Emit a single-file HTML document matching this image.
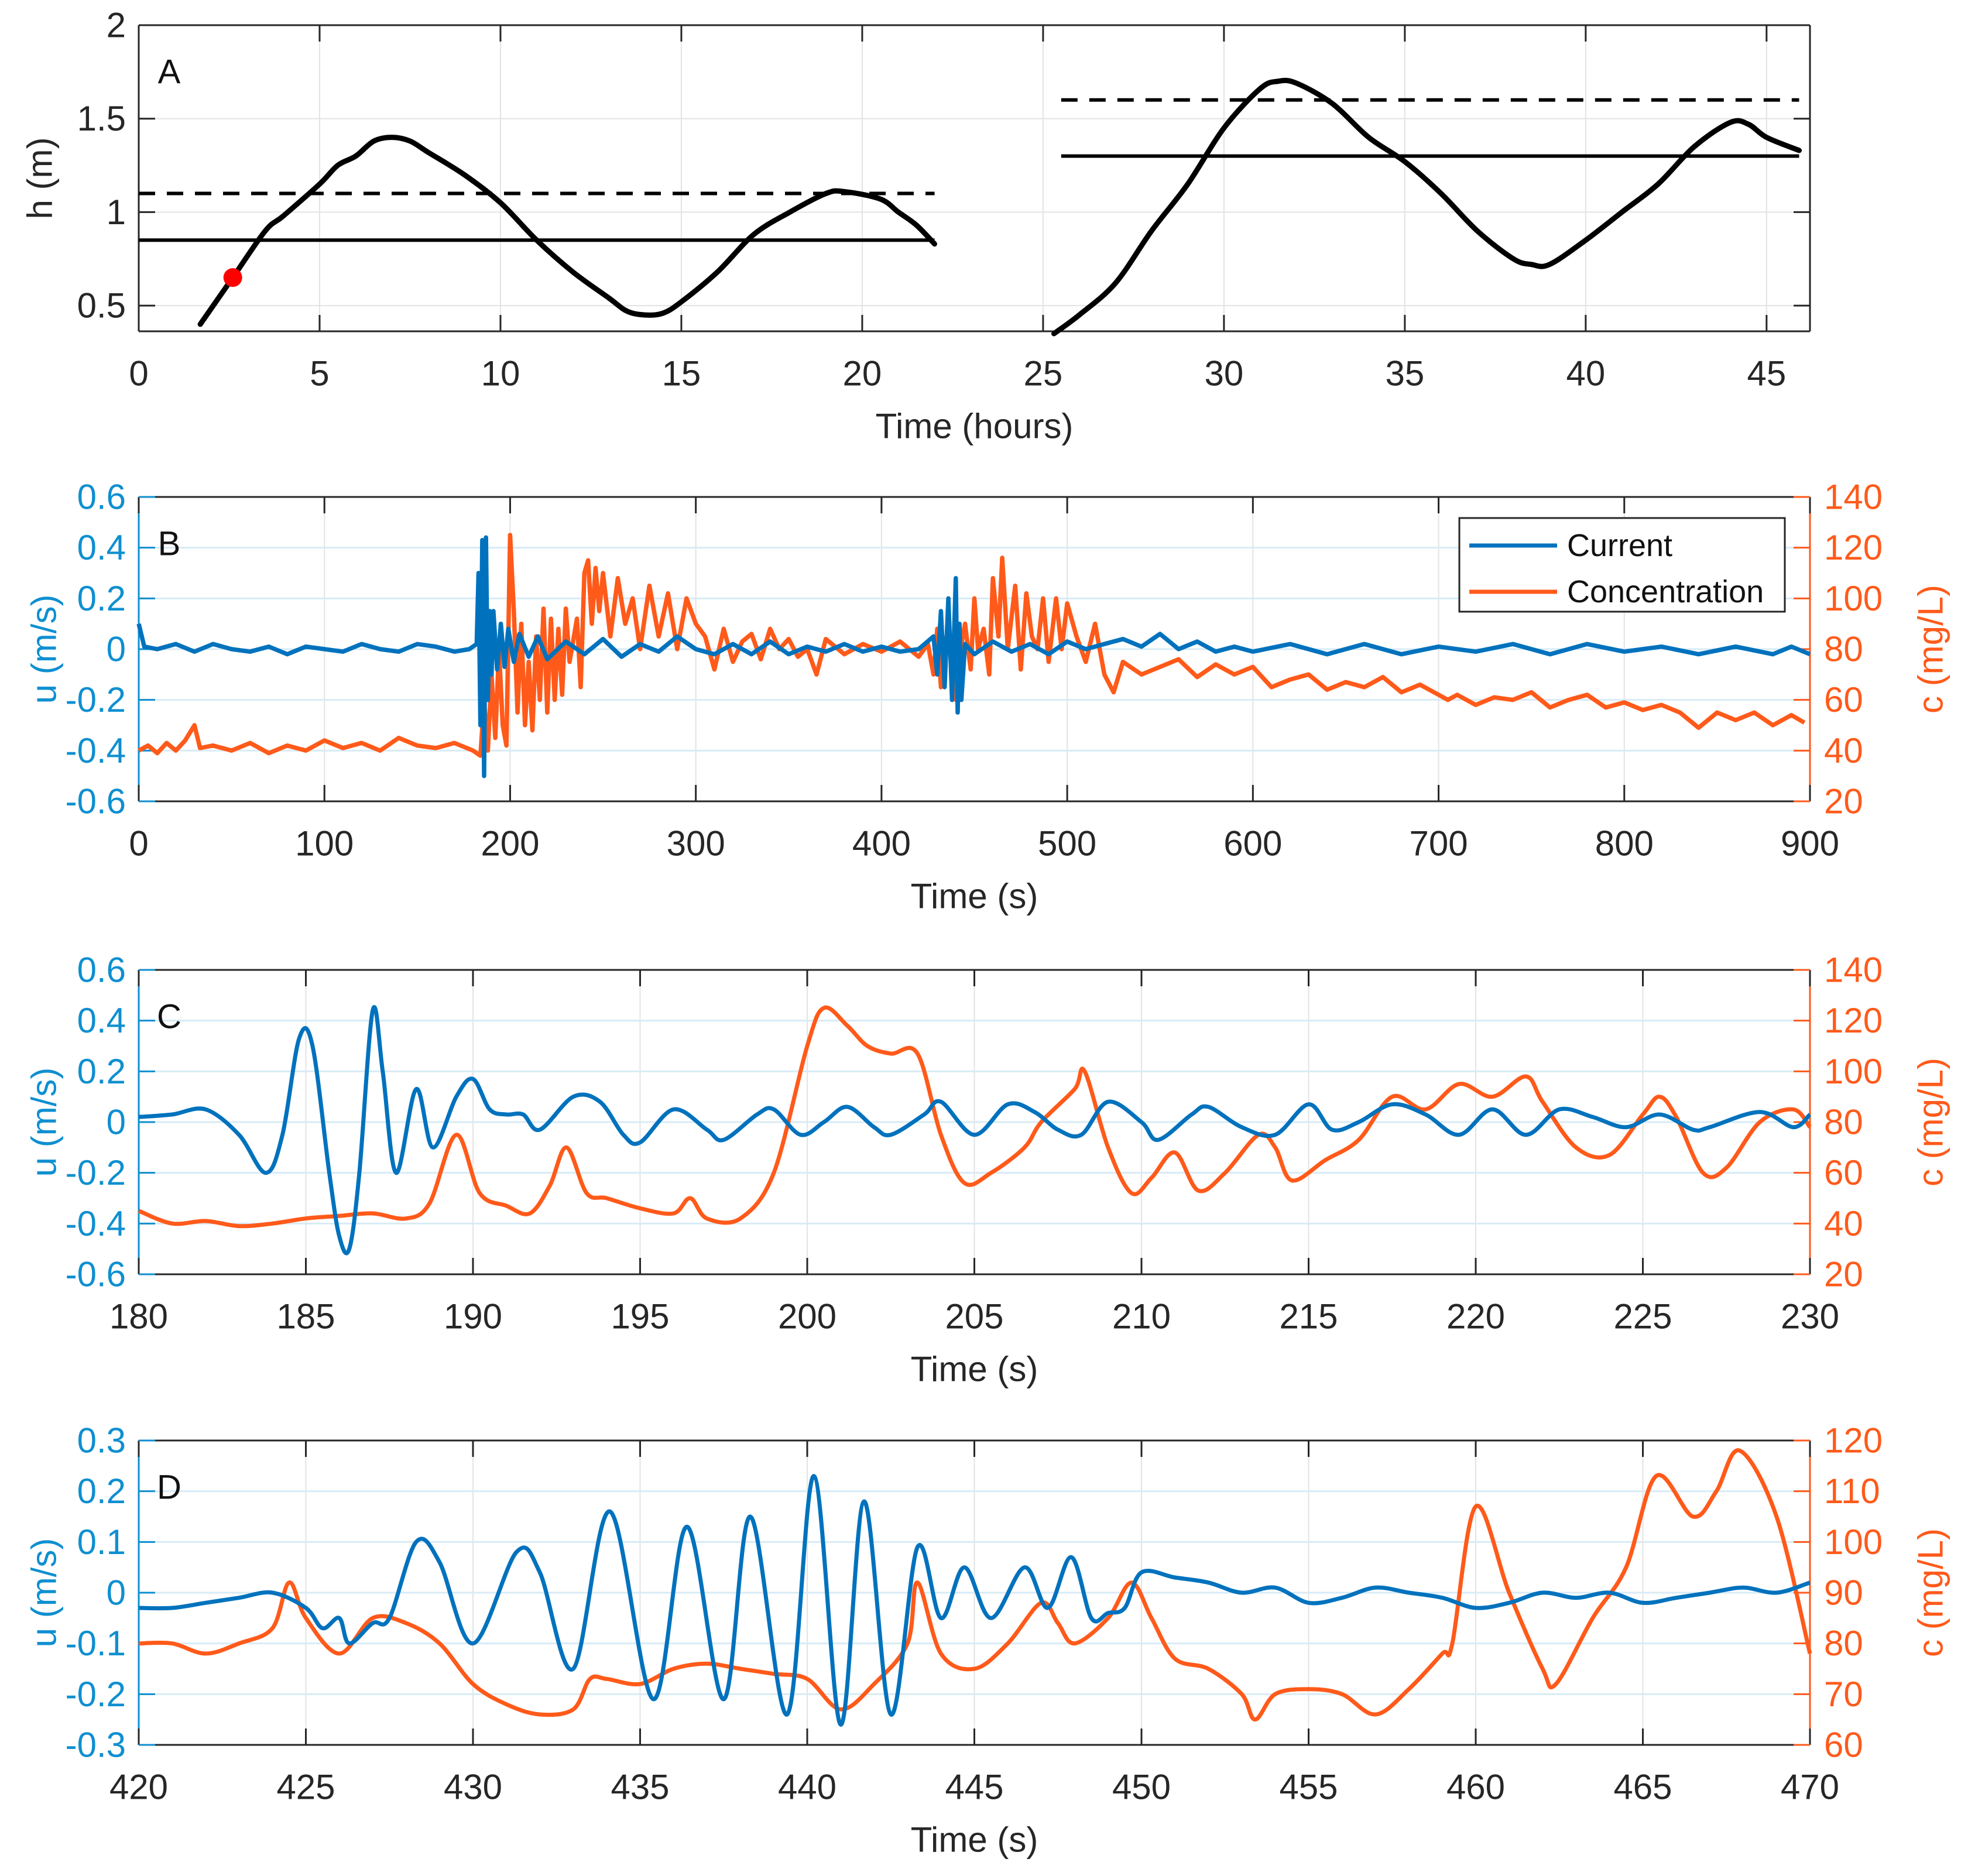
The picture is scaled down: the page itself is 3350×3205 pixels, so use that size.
<!DOCTYPE html>
<html><head><meta charset="utf-8"><style>
html,body{margin:0;padding:0;background:#fff;}
svg{display:block;}
text{font-family:"Liberation Sans",Arial,sans-serif;}
</style></head><body>
<svg id="fig" width="3350" height="3205" viewBox="0 0 3350 3205" xmlns="http://www.w3.org/2000/svg"></svg>
<script>
// ---------- Panel A data ----------
const aSeg1T = [1.7,2.6,3.5,4,5,5.5,6,6.5,7,7.5,8,9,10,11,12,13,13.5,14,14.5,15,16,17,18,19,19.5,20.5,21,21.5,22];
const aSeg1H = [0.4,0.65,0.9,0.98,1.15,1.25,1.3,1.38,1.4,1.38,1.32,1.2,1.05,0.85,0.68,0.54,0.47,0.45,0.46,0.52,0.68,0.88,1.0,1.1,1.11,1.07,1.0,0.93,0.83];
const aSeg2T = [25.3,26,27,28,29,30,31,31.5,32,33,34,35,36,37,38,38.5,39,40,41,42,43,44,44.5,45,45.9];
const aSeg2H = [0.35,0.45,0.62,0.9,1.15,1.45,1.66,1.7,1.69,1.58,1.4,1.27,1.1,0.9,0.75,0.72,0.72,0.85,1.0,1.15,1.35,1.48,1.47,1.4,1.33];
const aMarkerT = [2.6];
const aMarkerH = [0.65];
const aLevelsSolid = [0.85, 1.3];
const aLevelsDashed = [1.1, 1.6];
const aLevelSpans = [[0,22],[25.5,45.9]];
const aXTicks = [0,5,10,15,20,25,30,35,40,45];
const aYTicks = [0.5,1,1.5,2];

// ---------- Panel B data ----------
const bUT = [0,3,10,20,30,40,50,60,70,80,90,100,110,120,130,140,150,160,170,178,182,183,184,185,186,187,188,189,190,191,193,195,197,199,202,205,210,215,220,230,240,250,260,270,280,290,300,310,320,330,340,350,360,370,380,390,400,410,420,428,430,432,434,436,438,440,441,442,443,445,450,460,470,480,490,500,510,520,530,540,550,560,570,580,590,600,620,640,660,680,700,720,740,760,780,800,820,840,860,880,890,900];
const bU = [0.1,0.01,0.0,0.02,-0.01,0.02,0.0,-0.01,0.01,-0.02,0.01,0.0,-0.01,0.02,0.0,-0.01,0.02,0.01,-0.01,0.0,0.02,0.3,-0.3,0.43,-0.5,0.44,-0.2,0.15,-0.1,0.15,-0.08,0.1,-0.07,0.08,-0.05,0.06,-0.03,0.05,-0.04,0.03,-0.02,0.04,-0.03,0.02,-0.01,0.05,0.0,-0.02,0.02,-0.02,0.03,-0.02,0.01,-0.01,0.02,-0.01,0.01,-0.01,0.0,0.05,-0.1,0.15,-0.15,0.2,-0.2,0.28,-0.25,0.1,-0.2,0.02,-0.02,0.03,-0.01,0.02,-0.02,0.03,0.0,0.02,0.04,0.01,0.06,0.0,0.03,-0.01,0.01,-0.01,0.02,-0.02,0.02,-0.02,0.01,-0.01,0.02,-0.02,0.02,-0.01,0.01,-0.02,0.01,-0.02,0.01,-0.02];
const bCT = [0,5,10,15,20,25,30,33,40,50,60,70,80,90,100,110,120,130,140,150,160,170,180,184,186,188,190,192,194,196,198,200,202,204,206,208,210,212,214,216,218,220,222,224,226,228,230,232,236,238,240,242,244,246,248,250,254,258,262,266,270,275,280,285,290,295,300,305,310,315,320,325,330,335,340,345,350,355,360,365,370,380,390,400,410,420,425,428,430,432,435,438,440,442,445,448,450,452,455,458,460,463,465,468,472,475,478,481,484,487,490,494,497,500,505,510,515,520,525,530,540,550,560,570,580,590,600,610,620,630,640,650,660,670,680,690,700,705,710,720,730,740,750,760,770,780,790,800,810,820,830,840,850,860,870,880,890,897];
const bC = [40,42,39,43,40,44,50,41,42,40,43,39,42,40,44,41,43,40,45,42,41,43,40,38,60,40,70,45,80,50,42,125,95,55,90,50,75,48,85,60,96,55,92,60,88,62,96,75,92,65,110,115,90,112,95,110,85,108,90,100,80,105,85,102,80,100,90,85,72,88,75,83,86,76,88,80,84,77,80,70,84,78,82,79,83,77,82,70,88,65,85,78,60,78,90,72,100,80,88,70,108,85,116,80,105,72,102,85,80,100,75,100,80,98,85,75,90,70,63,75,70,73,76,69,74,70,73,65,68,70,64,67,65,69,63,66,62,60,62,58,61,60,63,57,60,62,57,59,56,58,55,49,55,52,55,50,54,51];
const bXTicks = [0,100,200,300,400,500,600,700,800,900];
const bYTicksL = [-0.6,-0.4,-0.2,0,0.2,0.4,0.6];
const bYTicksR = [20,40,60,80,100,120,140];

// ---------- Panel C data ----------
const cUT = [180,181,182,183,183.8,184.3,184.8,185.2,185.7,186,186.3,186.6,187,187.3,187.7,188.3,188.8,189.5,190,190.5,191,191.5,192,193,193.8,194.5,195,196,197,197.5,198.5,199,199.8,200.5,201.2,202,202.5,203.5,204,205,206,206.8,207.5,208.2,209,210,210.5,211.5,212,213,214,215,215.7,216.5,217.5,218.5,219.5,220.5,221.5,222.5,223.5,224.5,225.5,226.5,227,228.5,229.5,230];
const cU = [0.02,0.03,0.05,-0.05,-0.2,-0.05,0.33,0.3,-0.2,-0.45,-0.5,-0.2,0.44,0.2,-0.2,0.13,-0.1,0.1,0.17,0.05,0.03,0.03,-0.03,0.1,0.08,-0.05,-0.08,0.05,-0.03,-0.07,0.03,0.05,-0.05,0.0,0.06,-0.02,-0.05,0.03,0.08,-0.05,0.07,0.04,-0.03,-0.05,0.08,0.0,-0.07,0.03,0.06,-0.02,-0.05,0.07,-0.03,0.0,0.07,0.03,-0.05,0.05,-0.05,0.05,0.02,-0.02,0.03,-0.03,-0.02,0.04,-0.02,0.03];
const cCT = [180,181,182,183,184,185,186,187,188,188.7,189.5,190.2,191,191.7,192.3,192.8,193.4,194,195,196,196.5,197,198,199,200,200.5,201.2,201.8,202.5,203.3,204,204.7,205.5,206.5,207,208,208.3,209,209.7,210.3,211,211.7,212.5,213.5,214,214.5,215.5,216.5,217.5,218.5,219.5,220.5,221.5,222,223,224,225,225.5,226,226.8,227.5,228.5,229.5,230];
const cC = [45,40,41,39,40,42,43,44,42,48,75,52,47,44,55,70,52,50,46,44,50,42,42,60,110,125,118,110,107,107,75,56,60,70,80,93,100,70,52,58,68,53,60,75,70,57,65,73,90,85,95,90,98,88,70,67,83,90,82,60,62,80,85,78];
const cXTicks = [180,185,190,195,200,205,210,215,220,225,230];

// ---------- Panel D data ----------
const dUT = [420,421,422,423,424,425,425.5,426,426.3,427,427.5,428.3,429,430,431.3,432,433,434.1,435.4,436.4,437.5,438.3,439.4,440.2,441.0,441.7,442.5,443.3,444,444.7,445.5,446.5,447.2,447.9,448.5,449,449.5,450,451,452,453,454,455,456,457,458,459,460,461,462,463,464,465,466,467,468,469,470];
const dU = [-0.03,-0.03,-0.02,-0.01,0.0,-0.03,-0.07,-0.05,-0.1,-0.06,-0.05,0.1,0.06,-0.1,0.08,0.04,-0.15,0.16,-0.21,0.13,-0.21,0.15,-0.24,0.23,-0.26,0.18,-0.24,0.09,-0.05,0.05,-0.05,0.05,-0.03,0.07,-0.05,-0.04,-0.03,0.04,0.03,0.02,0.0,0.01,-0.02,-0.01,0.01,0.0,-0.01,-0.03,-0.02,0.0,-0.01,0.0,-0.02,-0.01,0.0,0.01,0.0,0.02];
const dCT = [420,421,422,423,424,424.5,425,426,427,428,429,430,431,432,433,433.5,434,435,436,437,438,439,440,441,442,443,443.3,444,445,446,447,447.5,448,449,449.7,450.3,451,452,453,453.4,454,455,456,457,458,459,459.3,460,461,462,462.4,463.5,464.5,465.4,466.5,467.2,467.9,469,470];
const dC = [80,80,78,80,83,92,85,78,85,84,80,72,68,66,67,73,73,72,75,76,75,74,73,67,72,80,92,78,75,80,88,84,80,85,92,85,77,75,70,65,70,71,70,66,71,78,80,107,90,75,72,85,95,113,105,110,118,105,78];
const dXTicks = [420,425,430,435,440,445,450,455,460,465,470];
const dYTicksL = [-0.3,-0.2,-0.1,0,0.1,0.2,0.3];
const dYTicksR = [60,70,80,90,100,110,120];

// ---------- drawing ----------
const NS = "http://www.w3.org/2000/svg";
const svg = document.getElementById('fig');
const BLUE = "#0072BD", ORANGE = "#FF5A1A", AXIS = "#262626", LBLUE = "#0E8FD0";
function mk(tag, attrs, parent){
  const e = document.createElementNS(NS, tag);
  for (const k in attrs) e.setAttribute(k, attrs[k]);
  (parent||svg).appendChild(e);
  return e;
}
function txt(s, x, y, size, color, anchor, parent, rot){
  const t = mk('text', {x:x, y:y, 'font-size':size, fill:color, 'text-anchor':anchor||'middle', 'dominant-baseline':'central'}, parent);
  if (rot) t.setAttribute('transform', 'rotate(-90 '+x+' '+y+')');
  t.textContent = s;
  return t;
}
function lin(d0,d1,p0,p1){ return v => p0 + (v-d0)/(d1-d0)*(p1-p0); }
function pathFrom(ts, vs, sx, sy){
  let d = '';
  for (let i=0;i<ts.length;i++) d += (i?'L':'M') + sx(ts[i]).toFixed(1) + ' ' + sy(vs[i]).toFixed(1);
  return d;
}
function smoothPath(ts, vs, sx, sy){
  const P = ts.map((t,i)=>[sx(t), sy(vs[i])]);
  let d = 'M' + P[0][0].toFixed(1) + ' ' + P[0][1].toFixed(1);
  for (let i=0;i<P.length-1;i++){
    const p0 = P[Math.max(0,i-1)], p1 = P[i], p2 = P[i+1], p3 = P[Math.min(P.length-1,i+2)];
    const c1 = [p1[0]+(p2[0]-p0[0])/6, p1[1]+(p2[1]-p0[1])/6];
    const c2 = [p2[0]-(p3[0]-p1[0])/6, p2[1]-(p3[1]-p1[1])/6];
    d += 'C' + c1[0].toFixed(1)+' '+c1[1].toFixed(1)+' '+c2[0].toFixed(1)+' '+c2[1].toFixed(1)+' '+p2[0].toFixed(1)+' '+p2[1].toFixed(1);
  }
  return d;
}
const X0 = 237, X1 = 3092, TICK = 28;

function panel(opt){
  const g = mk('g', {});
  
  
  const {top, bot} = opt;
  const sx = lin(opt.xmin, opt.xmax, X0, X1);
  const syL = lin(opt.ymin, opt.ymax, bot, top);
  const grid = mk('g', {}, g);
  
  
  opt.xticks.forEach(v => { const x = sx(v); if (x>X0+2 && x<X1-2) mk('line',{x1:x,x2:x,y1:top,y2:bot,stroke:'#e3e3e3','stroke-width':2},grid); });
  opt.yticks.forEach(v => { const y = syL(v); if (y>top+2 && y<bot-2) mk('line',{x1:X0,x2:X1,y1:y,y2:y,stroke:opt.dual?'#d8ebf6':'#e3e3e3','stroke-width':opt.dual?3:2},grid); });
  const lc = opt.dual ? LBLUE : AXIS;
  mk('line',{x1:X0,x2:X1,y1:top,y2:top,stroke:AXIS,'stroke-width':3},g);
  mk('line',{x1:X0,x2:X1,y1:bot,y2:bot,stroke:AXIS,'stroke-width':3},g);
  mk('line',{x1:X0,x2:X0,y1:top,y2:bot,stroke:lc,'stroke-width':3},g);
  mk('line',{x1:X1,x2:X1,y1:top,y2:bot,stroke:opt.dual?ORANGE:AXIS,'stroke-width':3},g);
  opt.xticks.forEach(v => {
    const x = sx(v);
    mk('line',{x1:x,x2:x,y1:bot,y2:bot-TICK,stroke:AXIS,'stroke-width':3},g);
    mk('line',{x1:x,x2:x,y1:top,y2:top+TICK,stroke:AXIS,'stroke-width':3},g);
    const t = txt(String(v), x, bot+72, 60, AXIS, 'middle', g);
    
    
  });
  const xt = txt(opt.xlabel, (X0+X1)/2, bot+162, 60, AXIS, 'middle', g);
  
  
  opt.yticks.forEach(v => {
    const y = syL(v);
    mk('line',{x1:X0,x2:X0+TICK,y1:y,y2:y,stroke:lc,'stroke-width':3},g);
    if (!opt.dual) mk('line',{x1:X1,x2:X1-TICK,y1:y,y2:y,stroke:AXIS,'stroke-width':3},g);
    const t = txt(String(v), X0-22, y, 60, opt.dual?LBLUE:AXIS, 'end', g);
    
    
  });
  const yt = txt(opt.ylabel, opt.dual?75:68, (top+bot)/2, 60, opt.dual?LBLUE:AXIS, 'middle', g, true);
  
  
  let syR = null;
  if (opt.dual){
    syR = lin(opt.rmin, opt.rmax, bot, top);
    opt.rticks.forEach(v => {
      const y = syR(v);
      mk('line',{x1:X1,x2:X1-TICK,y1:y,y2:y,stroke:ORANGE,'stroke-width':3},g);
      const t = txt(String(v), X1+24, y, 60, ORANGE, 'start', g);
      
      
    });
    const rt = txt('c (mg/L)', 3298, (top+bot)/2, 60, ORANGE, 'middle', g, true);
    
    
  }
  const pl = txt(opt.letter, X0+52, top+80, 58, '#111', 'middle', g);
  
  
  return {g, sx, syL, syR};
}

// Panel A
const A = panel({name:'panel-a', top:43, bot:566, xmin:0, xmax:46.2, ymin:0.3625, ymax:2, xticks:aXTicks, yticks:aYTicks, xlabel:'Time (hours)', ylabel:'h (m)', letter:'A', dual:false});
aLevelSpans.forEach((sp,i) => {
  const s = mk('line',{x1:A.sx(sp[0]),x2:A.sx(sp[1]),y1:A.syL(aLevelsSolid[i]),y2:A.syL(aLevelsSolid[i]),stroke:'#000','stroke-width':6},A.g);
  
  
  const d = mk('line',{x1:A.sx(sp[0]),x2:A.sx(sp[1]),y1:A.syL(aLevelsDashed[i]),y2:A.syL(aLevelsDashed[i]),stroke:'#000','stroke-width':6,'stroke-dasharray':'28 20'},A.g);
  
  
});
[[aSeg1T,aSeg1H],[aSeg2T,aSeg2H]].forEach(s => {
  const p = mk('path',{d:smoothPath(s[0],s[1],A.sx,A.syL),fill:'none',stroke:'#000','stroke-width':9,'stroke-linejoin':'round','stroke-linecap':'round'},A.g);
  
  
});
aMarkerT.forEach((t,i) => {
  const c = mk('circle',{cx:A.sx(t),cy:A.syL(aMarkerH[i]),r:16,fill:'#ff0000'},A.g);
  
  
});

function dualSeries(P, uT, u, cT, c, smooth, w){
  const f = smooth ? smoothPath : pathFrom;
  const pc = mk('path',{d:f(cT,c,P.sx,P.syR),fill:'none',stroke:ORANGE,'stroke-width':w,'stroke-linejoin':'round'},P.g);
  
  
  const pu = mk('path',{d:f(uT,u,P.sx,P.syL),fill:'none',stroke:BLUE,'stroke-width':w,'stroke-linejoin':'round'},P.g);
  
  
}
// Panel B
const B = panel({name:'panel-b', top:849, bot:1369, xmin:0, xmax:900, ymin:-0.6, ymax:0.6, rmin:20, rmax:140, xticks:bXTicks, yticks:bYTicksL, rticks:bYTicksR, xlabel:'Time (s)', ylabel:'u (m/s)', letter:'B', dual:true});
dualSeries(B, bUT, bU, bCT, bC, false, 7.5);
const lg = mk('g',{},B.g);


mk('rect',{x:2493,y:885,width:556,height:160,fill:'#fff',stroke:'#262626','stroke-width':3},lg);
mk('line',{x1:2510,x2:2660,y1:932,y2:932,stroke:BLUE,'stroke-width':7},lg);
mk('line',{x1:2510,x2:2660,y1:1011,y2:1011,stroke:ORANGE,'stroke-width':7},lg);
const l1 = txt('Current', 2677, 932, 54, '#111', 'start', lg);


const l2 = txt('Concentration', 2677, 1011, 54, '#111', 'start', lg);



// Panel C
const C = panel({name:'panel-c', top:1657, bot:2177, xmin:180, xmax:230, ymin:-0.6, ymax:0.6, rmin:20, rmax:140, xticks:cXTicks, yticks:bYTicksL, rticks:bYTicksR, xlabel:'Time (s)', ylabel:'u (m/s)', letter:'C', dual:true});
dualSeries(C, cUT, cU, cCT, cC, true, 7);
// Panel D
const D = panel({name:'panel-d', top:2461, bot:2981, xmin:420, xmax:470, ymin:-0.3, ymax:0.3, rmin:60, rmax:120, xticks:dXTicks, yticks:dYTicksL, rticks:dYTicksR, xlabel:'Time (s)', ylabel:'u (m/s)', letter:'D', dual:true});
dualSeries(D, dUT, dU, dCT, dC, true, 7);
</script>
</body></html>
